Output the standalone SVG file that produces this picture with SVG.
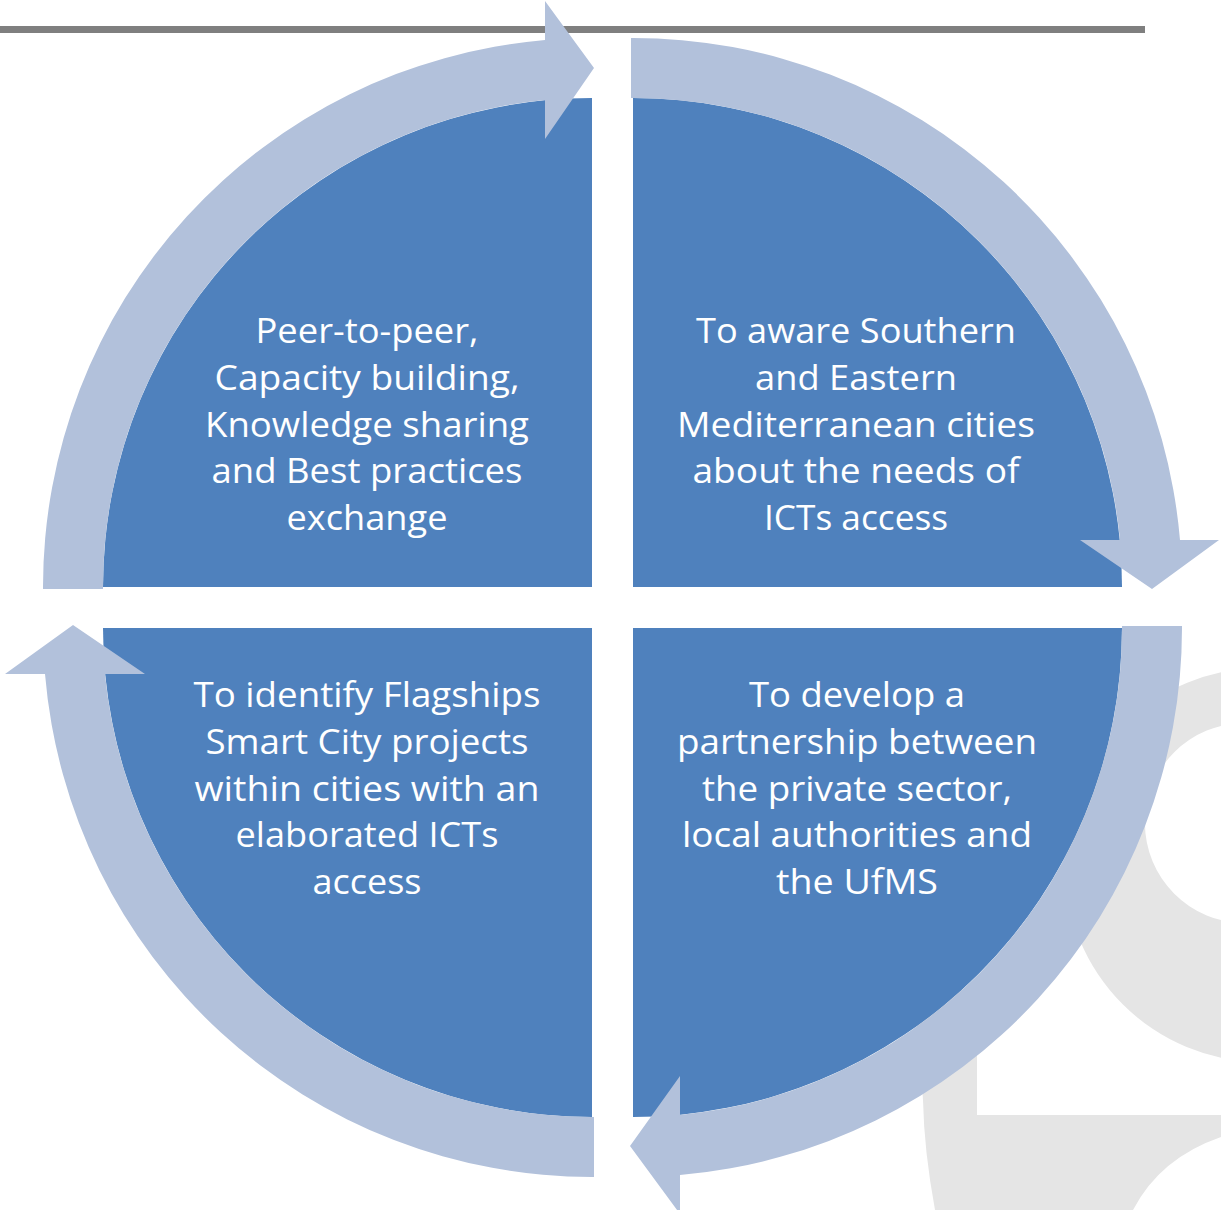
<svg xmlns="http://www.w3.org/2000/svg" width="1221" height="1210" viewBox="0 0 1221 1210">
<style>
.wm{fill:#E5E5E5}
.sector{fill:#4F81BD}
.arrow{fill:#B2C1DB}
.lbl{font-family:"Open Sans","Noto Sans","Liberation Sans",sans-serif;font-size:35px;fill:#FFFFFF;text-anchor:middle}
</style>
<rect x="0" y="0" width="1221" height="1210" fill="#FFFFFF"/>
<g id="watermark">
<path class="wm" fill-rule="evenodd" d="M1262,668 A197,197 0 1,0 1262,1062 A197,197 0 1,0 1262,668 Z M1245,723 A100,100 0 1,1 1245,923 A100,100 0 1,1 1245,723 Z"/>
<path class="wm" d="M915,990 L977,990 L977,1115 L1221,1115 L1221,1137 Q1160,1158 1133,1210 L935,1210 Q924,1150 923,1100 Z"/>
</g>
<rect id="topline" x="0" y="26" width="1145" height="7" fill="#7F7F7F"/>
<g id="node-tl">
<path class="sector" d="M592,587 L103,587 A489,489 0 0,1 592,98 Z"/>
<text class="lbl"><tspan x="367" y="343" textLength="223" lengthAdjust="spacingAndGlyphs">Peer-to-peer,</tspan><tspan x="367" y="390" textLength="305" lengthAdjust="spacingAndGlyphs">Capacity building,</tspan><tspan x="367" y="437" textLength="324" lengthAdjust="spacingAndGlyphs">Knowledge sharing</tspan><tspan x="367" y="483" textLength="311" lengthAdjust="spacingAndGlyphs">and Best practices</tspan><tspan x="367" y="530" textLength="161" lengthAdjust="spacingAndGlyphs">exchange</tspan></text>
</g>
<g id="node-tr">
<path class="sector" d="M633,587 L633,98 A489,489 0 0,1 1122,587 Z"/>
<text class="lbl"><tspan x="856" y="343" textLength="320" lengthAdjust="spacingAndGlyphs">To aware Southern</tspan><tspan x="856" y="390" textLength="202" lengthAdjust="spacingAndGlyphs">and Eastern</tspan><tspan x="856" y="437" textLength="358" lengthAdjust="spacingAndGlyphs">Mediterranean cities</tspan><tspan x="856" y="483" textLength="327" lengthAdjust="spacingAndGlyphs">about the needs of</tspan><tspan x="856" y="530" textLength="184" lengthAdjust="spacingAndGlyphs">ICTs access</tspan></text>
</g>
<g id="node-br">
<path class="sector" d="M633,628 L1122,628 A489,489 0 0,1 633,1117 Z"/>
<text class="lbl"><tspan x="857" y="707" textLength="216" lengthAdjust="spacingAndGlyphs">To develop a</tspan><tspan x="857" y="754" textLength="360" lengthAdjust="spacingAndGlyphs">partnership between</tspan><tspan x="857" y="801" textLength="310" lengthAdjust="spacingAndGlyphs">the private sector,</tspan><tspan x="857" y="847" textLength="350" lengthAdjust="spacingAndGlyphs">local authorities and</tspan><tspan x="857" y="894" textLength="162" lengthAdjust="spacingAndGlyphs">the UfMS</tspan></text>
</g>
<g id="node-bl">
<path class="sector" d="M592,628 L592,1117 A489,489 0 0,1 103,628 Z"/>
<text class="lbl"><tspan x="367" y="707" textLength="347" lengthAdjust="spacingAndGlyphs">To identify Flagships</tspan><tspan x="367" y="754" textLength="323" lengthAdjust="spacingAndGlyphs">Smart City projects</tspan><tspan x="367" y="801" textLength="345" lengthAdjust="spacingAndGlyphs">within cities with an</tspan><tspan x="367" y="847" textLength="263" lengthAdjust="spacingAndGlyphs">elaborated ICTs</tspan><tspan x="367" y="894" textLength="109" lengthAdjust="spacingAndGlyphs">access</tspan></text>
</g>
<g id="connectors">
<path class="arrow" d="M43,589 A549,549 0 0,1 545,40 L545,1 L594,68 L545,139 L545,100 A489,489 0 0,0 103,589 Z"/>
<path class="arrow" d="M631,38 A549,549 0 0,1 1180,540 L1219,540 L1152,589 L1080,540 L1120,540 A489,489 0 0,0 631,98 Z"/>
<path class="arrow" d="M1182,626 A549,549 0 0,1 680,1175 L680,1214 L630,1146 L680,1076 L680,1115 A489,489 0 0,0 1122,626 Z"/>
<path class="arrow" d="M594,1177 A549,549 0 0,1 45,674 L5,674 L73,625 L145,674 L105,674 A489,489 0 0,0 594,1117 Z"/>
</g>
</svg>
